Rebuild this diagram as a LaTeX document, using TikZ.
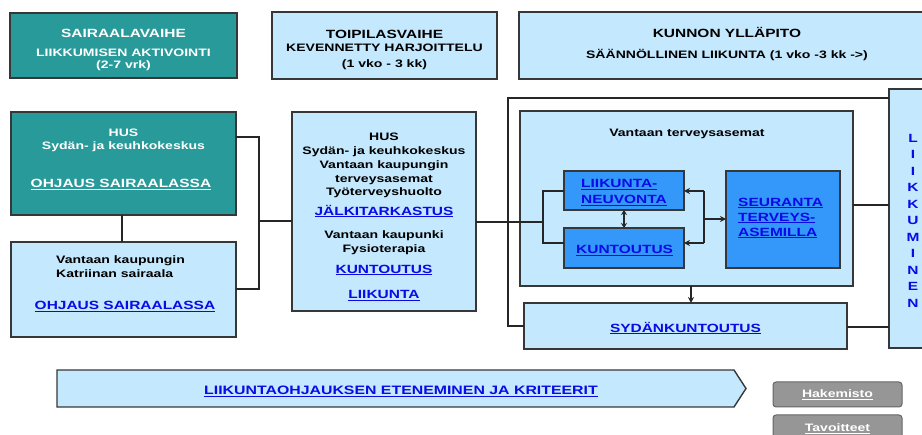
\documentclass[tikz,border=0pt]{standalone}
\usepackage{fontspec}
\setmainfont{Liberation Sans}
\newfontfamily\af[FakeStretch=1.3]{Liberation Sans}
\usetikzlibrary{arrows.meta}
\definecolor{teal1}{RGB}{40,154,154}
\definecolor{lblue}{RGB}{196,232,253}
\definecolor{dblue}{RGB}{52,152,250}
\definecolor{link}{RGB}{10,10,230}
\definecolor{bord}{RGB}{55,55,55}
\definecolor{btn}{RGB}{150,150,150}
\newcommand\ul[1]{\setbox0\hbox{#1}\rlap{\rule[-1.8pt]{\wd0}{0.8pt}}\box0}
\tikzset{
 box/.style={draw=bord, line width=1.4pt, anchor=north west, inner sep=0pt, outer sep=0pt},
 tealbox/.style={box, fill=teal1},
 lightbox/.style={box, fill=lblue},
 bluebox/.style={box, fill=dblue},
 btnbox/.style={box, fill=btn, draw=black!60, rounded corners=3pt, line width=1pt},
 txt/.style={inner sep=0pt, anchor=base, font=\af\bfseries\fontsize{10.8}{12}\selectfont},
 big/.style={font=\af\bfseries\fontsize{11.9}{13}\selectfont},
 wt/.style={text=white},
 lk/.style={text=link},
 conn/.style={draw=black!85, line width=1.2pt},
 arr/.style={conn, -{Stealth[length=6pt,width=6pt]}},
 dbl/.style={conn, {Stealth[length=5pt,width=6pt]}-{Stealth[length=5pt,width=6pt]}},
}
\begin{document}
\begin{tikzpicture}[x=1pt,y=-1pt]
\useasboundingbox (0,0) rectangle (922,435);
% boxes
\node[tealbox, minimum width=227, minimum height=65] (s1) at (10,13) {};
\node[lightbox, minimum width=225, minimum height=67] (s2) at (272,12) {};
\node[lightbox, minimum width=416, minimum height=67] (s3) at (519,12) {};
\node[tealbox, minimum width=225, minimum height=103] (hus) at (11,112) {};
\node[lightbox, minimum width=225, minimum height=95] (kat) at (11,242) {};
\node[lightbox, minimum width=184, minimum height=199] (mid) at (292,112) {};
\node[lightbox, minimum width=333, minimum height=175] (van) at (520,111) {};
\node[bluebox, minimum width=120, minimum height=39] (liik) at (564,171) {};
\node[bluebox, minimum width=120, minimum height=40] (kunt) at (564,228) {};
\node[bluebox, minimum width=114, minimum height=97] (seur) at (726,171) {};
\node[lightbox, minimum width=323, minimum height=46] (syd) at (524,303) {};
\node[lightbox, minimum width=46, minimum height=259] (liikk) at (889,89) {};
\node[btnbox, minimum width=129, minimum height=25] (hak) at (773,382) {};
\node[btnbox, minimum width=129, minimum height=25] (tav) at (773,415) {};
% bottom arrow shape
\draw[draw=bord, line width=1.4pt, fill=lblue] (57,370) -- (734,370) -- (746,388.5) -- (734,407) -- (57,407) -- cycle;
% junction coordinates
\coordinate (bt) at (259,137);
\coordinate (bb) at (259,289);
\coordinate (bm) at (259,221);
\coordinate (f1) at (543,222);
\coordinate (fa) at (543,191);
\coordinate (fb) at (543,243);
\coordinate (o1) at (508,98);
\coordinate (o2) at (508,326);
\coordinate (v1) at (870,205);
\coordinate (v2) at (870,327);
\coordinate (d) at (624,219);
\coordinate (r1) at (704,191);
\coordinate (r2) at (704,243);
\coordinate (r3) at (704,219);
\coordinate (a1) at (691,295);
\coordinate (c1) at (122,230);
% connectors
\draw[conn] (hus.south -| c1) -- (kat.north -| c1);
\draw[conn] (hus.east |- bt) -- (bt) -- (bb) -- (kat.east |- bb);
\draw[conn] (bm) -- (mid.west |- bm);
\draw[conn] (mid.east |- f1) -- (f1);
\draw[conn] (liik.west |- fa) -- (fa) -- (fb) -- (kunt.west |- fb);
\draw[conn] (liikk.west |- o1) -- (o1) -- (o2) -- (syd.west |- o2);
\draw[conn] (van.east |- v1) -- (liikk.west |- v1);
\draw[conn] (syd.east |- v2) -- (liikk.west |- v2);
\draw[dbl] (liik.south -| d) -- (kunt.north -| d);
\draw[conn] (r1) -- (r2);
\draw[arr] (r1) -- (liik.east |- r1);
\draw[arr] (r2) -- (kunt.east |- r2);
\draw[arr] (r3) -- (seur.west |- r3);
\draw[arr] (van.south -| a1) -- (syd.north -| a1);
% texts top
\node[txt,big,wt] (s1a) at (123.5,37.5) {SAIRAALAVAIHE};
\node[txt,wt] (s1b) at (123.5,56.5) {LIIKKUMISEN AKTIVOINTI};
\node[txt,wt] (s1c) at (123.5,69) {(2-7 vrk)};
\node[txt,big] (s2a) at (384.5,38.5) {TOIPILASVAIHE};
\node[txt] (s2b) at (384.5,51.5) {KEVENNETTY HARJOITTELU};
\node[txt] (s2c) at (384.5,68) {(1 vko - 3 kk)};
\node[txt,big] (s3a) at (727,38) {KUNNON YLLÄPITO};
\node[txt] (s3b) at (727,58.8) {SÄÄNNÖLLINEN LIIKUNTA (1 vko -3 kk ->)};
% left boxes
\node[txt,wt] (h1) at (123.5,137) {HUS};
\node[txt,wt] (h2) at (123.5,149.8) {Sydän- ja keuhkokeskus};
\node[txt,big,wt] (h3) at (121,187.8) {\ul{OHJAUS SAIRAALASSA}};
\node[txt,anchor=base west] (k1) at (56,263.8) {Vantaan kaupungin};
\node[txt,anchor=base west] (k2) at (56,277.2) {Katriinan sairaala};
\node[txt,big,lk] (k3) at (125,309.8) {\ul{OHJAUS SAIRAALASSA}};
% middle box
\node[txt] (m1) at (384,140.5) {HUS};
\node[txt] (m2) at (384,154.5) {Sydän- ja keuhkokeskus};
\node[txt] (m3) at (384,168.2) {Vantaan kaupungin};
\node[txt] (m4) at (384,182.2) {terveysasemat};
\node[txt] (m5) at (384,195.5) {Työterveyshuolto};
\node[txt,big,lk] (m6) at (384,215.5) {\ul{JÄLKITARKASTUS}};
\node[txt] (m7) at (384,238.8) {Vantaan kaupunki};
\node[txt] (m8) at (384,252.2) {Fysioterapia};
\node[txt,big,lk] (m9) at (384,273.2) {\ul{KUNTOUTUS}};
\node[txt,big,lk] (m10) at (384,298.8) {\ul{LIIKUNTA}};
% right part
\node[txt] (v0) at (687,136.2) {Vantaan terveysasemat};
\node[txt,big,lk,anchor=base west] (l1) at (581,187.8) {\ul{LIIKUNTA-}};
\node[txt,big,lk,anchor=base west] (l2) at (581,203.8) {\ul{NEUVONTA}};
\node[txt,big,lk,anchor=base west] (ku) at (576,253.8) {\ul{KUNTOUTUS}};
\node[txt,big,lk,anchor=base west] (se1) at (738,206.5) {\ul{SEURANTA}};
\node[txt,big,lk,anchor=base west] (se2) at (738,221.5) {\ul{TERVEYS-}};
\node[txt,big,lk,anchor=base west] (se3) at (738,236.5) {\ul{ASEMILLA}};
\node[txt,big,lk] (sy) at (685.5,332.2) {\ul{SYDÄNKUNTOUTUS}};
\foreach \c [count=\i from 0] in {L,I,I,K,K,U,M,I,N,E,N}
  \node[txt,big,lk] (lkm\i) at (913,142.2+16.5*\i) {\c};
% bottom
\node[txt,lk,font=\af\bfseries\fontsize{12.2}{13}\selectfont] (bot) at (401,394.8) {\ul{LIIKUNTAOHJAUKSEN ETENEMINEN JA KRITEERIT}};
\node[txt,wt] (hakt) at (837.5,398) {\ul{Hakemisto}};
\node[txt,wt] (tavt) at (837.5,432) {\ul{Tavoitteet}};
\end{tikzpicture}
\end{document}
